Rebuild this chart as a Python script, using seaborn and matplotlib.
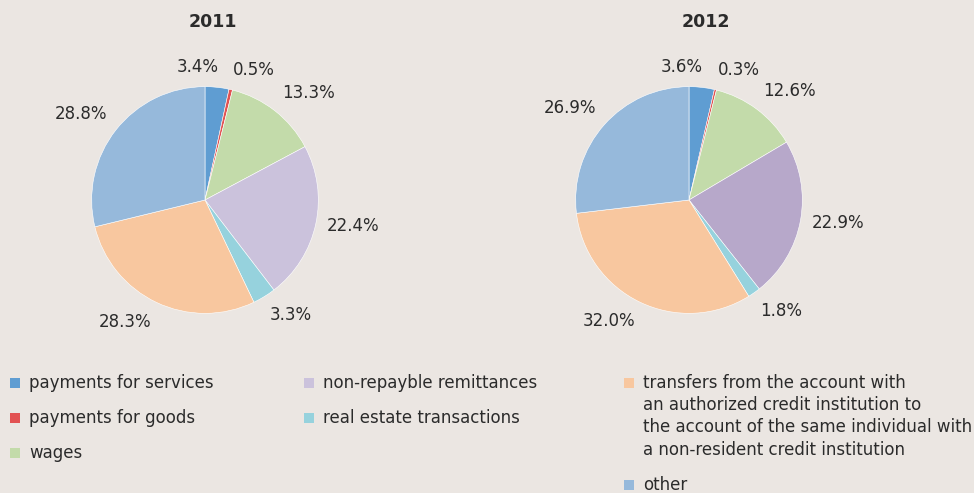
import matplotlib
matplotlib.use("Agg")
import matplotlib.pyplot as plt
import matplotlib.patches as mpatches
import seaborn as sns

# data
categories = ["payments for services", "payments for goods", "wages",
              "non-repayble remittances", "real estate transactions",
              "transfers from the account with\nan authorized credit institution to\n"
              "the account of the same individual with\na non-resident credit institution",
              "other"]
years = ["2011", "2012"]
shares_2011 = [3.4, 0.5, 13.3, 22.4, 3.3, 28.3, 28.8]
shares_2012 = [3.6, 0.3, 12.6, 22.9, 1.8, 32.0, 26.9]

colors = ["#5f9dd2", "#e25252", "#c3dbaa", "#cbc2dc", "#96d2dd", "#f8c79f", "#96b9db"]
colors_2012 = ["#5f9dd2", "#e25252", "#c3dbaa", "#b7a8ca", "#96d2dd", "#f8c79f", "#96b9db"]

bg = "#ebe6e2"
txt = "#2b2b2b"

sns.set_style("white")
plt.rcParams['font.family'] = ['DejaVu Sans']

fig = plt.figure(figsize=(9.74, 4.93), dpi=100)
fig.patch.set_facecolor(bg)

W, H = 974, 493
size = 340
for cx, tx, year, vals, cols in [(205, 213, years[0], shares_2011, colors),
                                 (689, 706, years[1], shares_2012, colors_2012)]:
    ax = fig.add_axes([(cx - size / 2) / W, (H - 200 - size / 2) / H, size / W, size / H])
    ax.set_facecolor(bg)
    labels = [f"{v:.1f}%" for v in vals]
    wedges, texts = ax.pie(vals, colors=cols, startangle=90, counterclock=False,
                           labels=labels, labeldistance=1.1,
                           wedgeprops=dict(edgecolor="white", linewidth=0.4),
                           textprops=dict(fontsize=12, color=txt))
    for t in texts:
        x, y = t.get_position()
        if abs(y) > 0.3:
            t.set_va("bottom" if y > 0 else "top")
    # small first slice label sits to the left of its neighbour
    texts[0].set_ha("right")
    ax.set_xlim(-1.5, 1.5)
    ax.set_ylim(-1.5, 1.5)
    ax.set_aspect("equal")
    ax.axis("off")
    fig.text(tx / W, 1 - 22 / H, year, ha="center", va="center",
             fontsize=12.5, fontweight="bold", color=txt)

# legend, three columns
columns = [([0, 1, 2], 10), ([3, 4], 304), ([5, 6], 624)]
row_step, line_step = 35, 22.2
for idx, x in columns:
    y = 383
    for i in idx:
        fig.patches.append(mpatches.Rectangle(((x) / W, 1 - (y + 5) / H), 10 / W, 10 / H,
                                              transform=fig.transFigure, facecolor=colors[i],
                                              edgecolor="none"))
        lines = categories[i].split("\n")
        for k, line in enumerate(lines):
            fig.text((x + 19) / W, 1 - (y + k * line_step) / H, line, ha="left",
                     va="center", fontsize=12, color=txt)
        y += row_step + line_step * (len(lines) - 1)

fig.savefig("out.png", dpi=100, facecolor=bg)
